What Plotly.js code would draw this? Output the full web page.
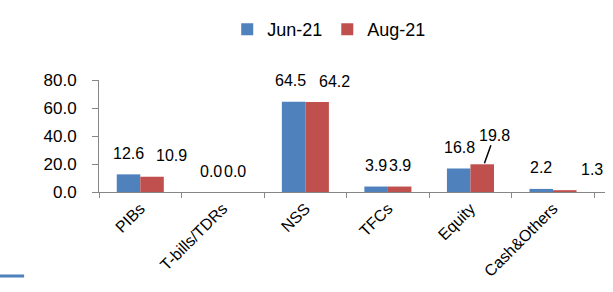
<!DOCTYPE html>
<html>
<head>
<meta charset="utf-8">
<script src="https://cdn.plot.ly/plotly-3.0.1.min.js"></script>
<style>html,body{margin:0;padding:0;background:#fff;}#chart{width:613px;height:292px;}</style>
</head>
<body>
<div id="chart"></div>
<script>
const categories = ["PIBs", "T-bills/TDRs", "NSS", "TFCs", "Equity", "Cash&Others"];
const seriesNames = ["Jun-21", "Aug-21"];
const jun21 = [12.6, 0.0, 64.5, 3.9, 16.8, 2.2];
const aug21 = [10.9, 0.0, 64.2, 3.9, 19.8, 1.3];
const yTicks = [0, 20, 40, 60, 80];

const colors = ["#4F81BD", "#C0504D"];
const FONT = "Liberation Sans, Arial, sans-serif";

const traces = [jun21, aug21].map((vals, s) => ({
  type: "bar",
  name: seriesNames[s],
  x: categories,
  y: vals,
  marker: {color: colors[s]},
  hoverinfo: "skip"
}));

// label placement tweaks (pixel nudges, Excel-like layout)
const nudgeX = [
  [0, 0, -3, 0, 1, 0],
  [19, 0, 17, 0, 11, 27]
];
const annotations = [];
[jun21, aug21].forEach((vals, s) => {
  vals.forEach((v, i) => {
    const leader = (s === 1 && categories[i] === "Equity");
    const a = {
      x: categories[i], y: v, xref: "x", yref: "y",
      text: v.toFixed(1),
      font: {family: FONT, size: 16, color: "#000"},
      showarrow: false,
      xshift: (s === 0 ? -12 : 12) + nudgeX[s][i],
      yshift: 21, yanchor: "middle"
    };
    if (leader) {
      Object.assign(a, {
        showarrow: true, arrowhead: 0, arrowwidth: 1.5, arrowcolor: "#000",
        ax: 10, ay: -28, xshift: 14, yshift: 1, standoff: 0, startstandoff: 0,
        xanchor: "center", yanchor: "middle"
      });
    }
    annotations.push(a);
  });
});

const layout = {
  width: 613, height: 292,
  margin: {l: 99, r: 8, t: 80, b: 100, pad: 0},
  paper_bgcolor: "#fff", plot_bgcolor: "#fff",
  font: {family: FONT, size: 16, color: "#000"},
  barmode: "group", bargap: 0.43, bargroupgap: 0,
  showlegend: true,
  legend: {
    orientation: "h", x: 0.455, xanchor: "center", y: 1.45, yanchor: "middle",
    font: {family: FONT, size: 18, color: "#000"},
    itemclick: false, itemdoubleclick: false, traceorder: "normal"
  },
  xaxis: {
    type: "category",
    tickangle: -45,
    showline: true, linecolor: "#868686", linewidth: 1,
    ticks: "outside", tickson: "boundaries", ticklen: 5, tickcolor: "#868686",
    showgrid: false, zeroline: false,
    tickfont: {family: FONT, size: 16, color: "#000"}
  },
  yaxis: {
    range: [0, 80],
    tickvals: yTicks,
    ticktext: yTicks.map(v => v.toFixed(1)),
    showline: true, linecolor: "#868686", linewidth: 1,
    ticks: "outside", ticklen: 6, tickcolor: "#868686",
    showgrid: false, zeroline: false,
    ticklabelstandoff: 12,
    tickfont: {family: FONT, size: 17, color: "#000"}
  },
  annotations: annotations,
  shapes: [{
    type: "line", xref: "paper", yref: "paper",
    x0: -0.196, x1: -0.148, y0: -0.75, y1: -0.75,
    line: {color: "#4F81BD", width: 3}
  }]
};

Plotly.newPlot("chart", traces, layout, {displayModeBar: false, staticPlot: true});
</script>
</body>
</html>
